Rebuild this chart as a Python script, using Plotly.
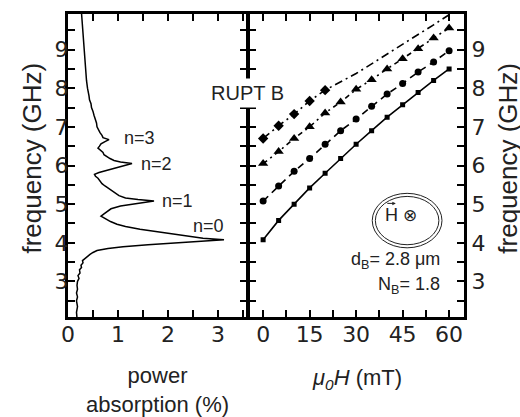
import plotly.graph_objects as go

# Left panel: absorption spectrum at zero field
spec_freq = [2.05, 2.2, 2.35, 2.5, 2.6, 2.7, 2.8, 2.9, 3.0, 3.08, 3.15, 3.22, 3.3, 3.36,
             3.42, 3.48, 3.54, 3.6, 3.65, 3.7, 3.75, 3.8, 3.85, 3.9, 3.95, 4.0, 4.05,
             4.08, 4.12, 4.18, 4.23, 4.3, 4.35, 4.42, 4.48, 4.55, 4.6, 4.65, 4.69, 4.75,
             4.82, 4.88, 4.95, 5.0, 5.05, 5.08, 5.12, 5.16, 5.22, 5.28, 5.33, 5.4, 5.47,
             5.53, 5.6, 5.67, 5.72, 5.77, 5.82, 5.87, 5.92, 5.97, 6.02, 6.05, 6.09, 6.13,
             6.18, 6.23, 6.28, 6.34, 6.4, 6.45, 6.5, 6.56, 6.62, 6.67, 6.72, 6.78, 6.85,
             6.92, 7.0, 7.1, 7.2, 7.3, 7.4, 7.5, 7.6, 7.7, 7.8, 7.9, 8.0, 8.2, 8.4, 8.6,
             8.8, 9.0, 9.2, 9.4, 9.6, 9.8, 9.95]
spec_abs = [0.18, 0.17, 0.19, 0.17, 0.19, 0.17, 0.19, 0.18, 0.19, 0.22, 0.2, 0.24, 0.23, 0.27,
            0.26, 0.3, 0.29, 0.34, 0.4, 0.44, 0.5, 0.58, 0.8, 1.1, 1.6, 2.2, 2.95,
            3.12, 2.7, 2.35, 2.1, 1.7, 1.44, 1.15, 0.98, 0.85, 0.78, 0.7, 0.66, 0.72,
            0.8, 0.86, 1.05, 1.3, 1.6, 1.72, 1.4, 1.15, 1.02, 0.95, 0.88, 0.8, 0.74,
            0.68, 0.64, 0.6, 0.55, 0.53, 0.62, 0.76, 0.88, 1.02, 1.2, 1.28, 1.05, 0.92,
            0.84, 0.78, 0.72, 0.7, 0.64, 0.6, 0.63, 0.66, 0.74, 0.82, 0.7, 0.68, 0.64,
            0.61, 0.58, 0.57, 0.54, 0.52, 0.5, 0.47, 0.46, 0.43, 0.42, 0.4, 0.39, 0.37,
            0.36, 0.34, 0.34, 0.32, 0.31, 0.3, 0.29, 0.28, 0.27]

# Right panel: mode frequencies vs applied field
field = [0, 5, 10, 15, 20, 25, 30, 35, 40, 45, 50, 55, 60]
mode_n0 = [4.08, 4.58, 5.0, 5.42, 5.8, 6.18, 6.55, 6.9, 7.25, 7.57, 7.89, 8.2, 8.5]
mode_n1 = [5.08, 5.47, 5.85, 6.18, 6.55, 6.9, 7.2, 7.53, 7.85, 8.12, 8.42, 8.68, 8.97]
mode_n2 = [6.05, 6.36, 6.7, 7.0, 7.36, 7.64, 7.97, 8.22, 8.5, 8.76, 9.02, 9.3, 9.56]
mode_n3 = [6.7, 7.03, 7.33, 7.67, 7.95, 8.17, 8.38, 8.63, 8.89, 9.14, 9.39, 9.64, 9.9]
n3_marked = 5  # only the low-field n=3 points carry symbols

peak_labels = ["n=0", "n=1", "n=2", "n=3"]

FONT = "Liberation Sans, Arial, sans-serif"
TICKFONT = "DejaVu Sans, sans-serif"
INK = "#222"

fig = go.Figure()

fig.add_trace(go.Scatter(x=spec_abs, y=spec_freq, mode="lines",
                         line=dict(color="black", width=1.5), xaxis="x", yaxis="y"))

def mode_trace(y, dash, symbol, size, mode="lines+markers"):
    return go.Scatter(x=field[:len(y)], y=y, mode=mode, xaxis="x2", yaxis="y2",
                      line=dict(color="black", width=1.6, dash=dash),
                      marker=dict(symbol=symbol, size=size, color="black",
                                  line=dict(width=0)))

fig.add_trace(mode_trace(mode_n0, "solid", "square", 5))
fig.add_trace(mode_trace(mode_n1, "7px,5px", "circle", 7))
fig.add_trace(mode_trace(mode_n2, "5px,4px,2px,4px", "triangle-up", 9))
fig.add_trace(mode_trace(mode_n3, "8px,4px,2px,4px", "diamond", 8, mode="lines"))
fig.add_trace(mode_trace(mode_n3[:n3_marked], "solid", "diamond", 8, mode="markers"))

minor_ticks = dict(ticks="inside", ticklen=7, tickwidth=2, tickcolor="black")
axis_common = dict(showline=True, linecolor="black", linewidth=3, mirror="allticks",
                   ticks="inside", ticklen=7, tickwidth=2, tickcolor="black",
                   showgrid=False, zeroline=False,
                   tickfont=dict(family=TICKFONT, size=22, color=INK))

fig.update_layout(
    xaxis=dict(domain=[0, 0.4508], range=[0, 3.57], dtick=1, tick0=0, anchor="y",
               minor=dict(dtick=0.5, **minor_ticks), ticklabelstandoff=-4, **axis_common),
    xaxis2=dict(domain=[0.4583, 1], range=[-4.4, 64.8], dtick=15, tick0=0, anchor="y2",
                minor=dict(dtick=7.5, **minor_ticks), ticklabelstandoff=-4, **axis_common),
    yaxis=dict(domain=[0, 1], range=[2.08, 9.92], dtick=1, tick0=0, anchor="x",
               minor=dict(dtick=0.5, **minor_ticks), ticklabelstandoff=-8, **axis_common),
    yaxis2=dict(domain=[0, 1], range=[2.08, 9.92], dtick=1, tick0=0, anchor="x2", side="right",
                minor=dict(dtick=0.5, **minor_ticks), **axis_common),
)

annots = []
# axis titles
title_font = dict(family=FONT, size=26, color=INK)
annots.append(dict(text="frequency (GHz)", xref="paper", yref="paper", x=-0.0909, y=0.523,
                   xanchor="center", yanchor="middle", textangle=-90, showarrow=False,
                   font=title_font))
annots.append(dict(text="frequency (GHz)", xref="paper", yref="paper", x=1.109, y=0.523,
                   xanchor="center", yanchor="middle", textangle=-90, showarrow=False,
                   font=title_font))
annots.append(dict(text="power<br>absorption (%)", xref="paper", yref="paper", x=0.225, y=-0.242,
                   xanchor="center", yanchor="middle", showarrow=False,
                   font=dict(family=FONT, size=22, color=INK)))
annots.append(dict(text="<i>μ<sub>0</sub>H</i> (mT)", xref="paper", yref="paper", x=0.730, y=-0.203,
                   xanchor="center", yanchor="middle", showarrow=False,
                   font=dict(family=FONT, size=22, color=INK)))
# peak labels
peak_pos = [(2.8, 4.44), (2.18, 5.08), (1.76, 6.03), (1.42, 6.7)]
for lab, (px, py) in zip(peak_labels, peak_pos):
    annots.append(dict(text=lab, xref="x", yref="y", x=px, y=py, showarrow=False,
                       xanchor="center", yanchor="middle",
                       font=dict(family=FONT, size=18, color=INK)))
# sample name across the panel border
annots.append(dict(text="RUPT B", xref="paper", yref="paper", x=0.4545, y=0.74,
                   xanchor="center", yanchor="middle", showarrow=False,
                   bgcolor="white", borderpad=3,
                   font=dict(family=FONT, size=20, color=INK)))
# field direction sketch
annots.append(dict(text="H<span style='font-size:17px'> ⊗</span>", xref="x2", yref="y2",
                   x=44.5, y=4.72, xanchor="center", yanchor="middle", showarrow=False,
                   font=dict(family=FONT, size=18, color=INK)))
annots.append(dict(text="", xref="x2", yref="y2", x=42.8, y=5.02, ax=-10, ay=0,
                   showarrow=True, arrowhead=2, arrowsize=0.7, arrowwidth=1, arrowcolor=INK))
annots.append(dict(text="d<sub>B</sub>= 2.8 μm", xref="x2", yref="y2", x=57.7, y=3.54,
                   xanchor="right", yanchor="middle", showarrow=False,
                   font=dict(family=FONT, size=18, color=INK)))
annots.append(dict(text="N<sub>B</sub>= 1.8", xref="x2", yref="y2", x=57.7, y=2.9,
                   xanchor="right", yanchor="middle", showarrow=False,
                   font=dict(family=FONT, size=18, color=INK)))

shapes = [
    dict(type="circle", xref="x2", yref="y2", x0=35.2, x1=57.7, y0=3.87, y1=5.28,
         line=dict(color=INK, width=1)),
    dict(type="circle", xref="x2", yref="y2", x0=36.2, x1=56.7, y0=3.95, y1=5.2,
         line=dict(color=INK, width=1)),
]

fig.update_layout(width=520, height=417, margin=dict(l=68, r=56, t=11, b=100),
                  paper_bgcolor="white", plot_bgcolor="white", showlegend=False,
                  annotations=annots, shapes=shapes)

fig.write_html("out.html")
